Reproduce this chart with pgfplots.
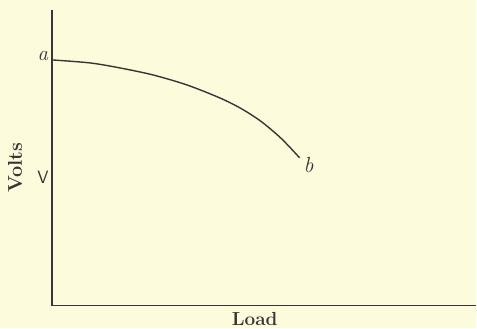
\documentclass[border=0pt]{standalone}
\usepackage{fontspec}
\usepackage{pgfplots}
\pgfplotsset{compat=1.18}
\definecolor{bg}{RGB}{252,251,220}
\definecolor{ink}{RGB}{58,52,52}
\begin{document}
\begin{tikzpicture}
\fill[bg] (0,0) rectangle (477bp,328bp);
\begin{axis}[
  at={(52bp,22bp)}, anchor=south west,
  scale only axis, width=425bp, height=296bp,
  xmin=0, xmax=425, ymin=0, ymax=296,
  axis lines=left,
  axis line style={-, line width=1.4pt, draw=ink},
  xtick=\empty, ytick=\empty,
  clip=false,
]
\addplot[ink, line width=1.4pt, smooth] coordinates {
(0,246) (38,243) (68,238) (101,231) (135,221) (168,208) (190,197) (210,184) (230,167) (248,148)
};
\node[ink, font=\fontsize{21}{24}\selectfont\itshape] at (axis cs:-9,250) {a};
\node[ink, font=\fontsize{18}{20}\selectfont\sffamily] at (axis cs:-9,128) {V};
\node[ink, font=\fontsize{22}{24}\selectfont\itshape] at (axis cs:257,141) {b};
\node[ink, font=\fontsize{20}{22}\selectfont\bfseries, rotate=90] at (axis cs:-37,138) {Volts};
\node[ink, font=\fontsize{19}{21}\selectfont\bfseries] at (axis cs:203,-13) {Load};
\end{axis}
\end{tikzpicture}
\end{document}
